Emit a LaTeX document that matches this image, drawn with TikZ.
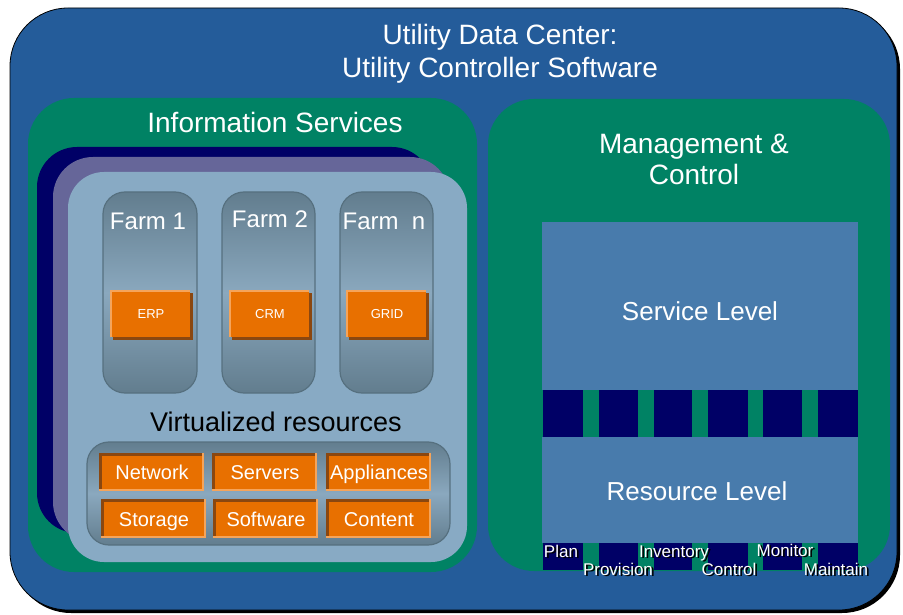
\documentclass[tikz,border=0pt]{standalone}
\usepackage{fontspec}
\setmainfont{Liberation Sans}
\definecolor{udcblue}{HTML}{245C9A}
\definecolor{udcgreen}{HTML}{008264}
\definecolor{udcnavy}{HTML}{000066}
\definecolor{udcpurple}{HTML}{666699}
\definecolor{udclight}{HTML}{88AAC4}
\definecolor{levelblue}{HTML}{487BAC}
\definecolor{slatedark}{HTML}{627D8E}
\definecolor{slatelight}{HTML}{8AA8BE}
\definecolor{slateedge}{HTML}{56707F}
\definecolor{orangemain}{HTML}{E87000}
\definecolor{orangelight}{HTML}{F5A45A}
\definecolor{orangedark}{HTML}{8A4710}
\tikzset{
  heading/.style={text=white, font=\fontsize{28}{30}\selectfont, inner sep=0pt, align=center},
  farmlabel/.style={text=white, font=\fontsize{24}{26}\selectfont, inner sep=0pt, text height=17.2pt, text depth=0pt},
  levellabel/.style={text=white, font=\fontsize{26}{28}\selectfont, inner sep=0pt, text height=18.6pt, text depth=0pt},
  applabel/.style={text=white, font=\fontsize{13}{15}\selectfont, inner sep=0pt, text height=9.3pt, text depth=0pt},
  reslabel/.style={text=white, font=\fontsize{20}{22}\selectfont, inner sep=0pt, text height=14.3pt, text depth=0pt},
  funclabel/.style={font=\fontsize{17}{19}\selectfont, inner sep=0pt, text height=12.2pt, text depth=0pt},
  farmbox/.style={rounded corners=22pt, top color=slatedark, bottom color=slatedark, middle color=slatelight, draw=slateedge, line width=1.2pt},
  navyblock/.style={fill=udcnavy},
}
% raised orange button with a shadow at the bottom right
\newcommand{\raisedbox}[5]{%
  \fill[orangedark] (#1+2.5,#2+2.5) rectangle (#3+2.5,#4+2.5);
  \fill[orangemain] (#1,#2) rectangle (#3,#4);
  \draw[orangelight, line width=1.5pt] (#1+0.75,#4) -- (#1+0.75,#2+0.75) -- (#3,#2+0.75);
  \node[applabel] (#5) at ({(#1+#3)/2+1},{(#2+#4)/2}) {#5};
}
% sunken orange button: dark edge top left, light edge bottom right
\newcommand{\sunkenbox}[6]{%
  \fill[orangelight] (#1,#2) rectangle (#3,#4);
  \fill[orangedark] (#1,#2) rectangle (#3-2,#4-2);
  \fill[orangemain] (#1+2.5,#2+2.5) rectangle (#3-2,#4-2);
  \node[reslabel] (#5) at ({(#1+#3)/2+0.5},{(#2+#4)/2+0.5}) {#6};
}
% white label with a black drop shadow, set as one node
\newcommand{\shadowlabel}[4]{%
  \node[funclabel, text=white] (#3) at (#1,#2)
    {\rlap{\hspace{1.8pt}\raisebox{-1.8pt}{\textcolor{black}{#4}}}#4};
}
\begin{document}
\begin{tikzpicture}[x=1pt,y=-1pt]
\useasboundingbox (0,0) rectangle (903,615);
\fill[white] (0,0) rectangle (903,615);

% outer data-centre panel with drop shadow
\fill[black, rounded corners=58pt] (13,11) rectangle (900,613);
\filldraw[fill=udcblue, draw=black, line width=0.8pt, rounded corners=58pt] (10,8) rectangle (897,610);
\node[heading] (title1) at (500,37) {Utility Data Center:};
\node[heading] (title2) at (500,70) {Utility Controller Software};

% ---------------- Information Services ----------------
\fill[udcgreen, rounded corners=46pt] (28,98) rectangle (477,572);
\node[heading] (infoserv) at (275,122) {Information Services};
\fill[udcnavy, rounded corners=40pt] (37,147) rectangle (432,533);
\fill[udcpurple, rounded corners=40pt] (53,157) rectangle (450,542);
\fill[udclight, rounded corners=36pt] (68,172) rectangle (467,562);

% farms
\shade[farmbox] (103,192) rectangle (197,393);
\shade[farmbox] (222,192) rectangle (315,393);
\shade[farmbox] (340,192) rectangle (433,393);
\node[farmlabel] (farm1) at (148,221) {Farm 1};
\node[farmlabel] (farm2) at (270,219) {Farm 2};
\node[farmlabel] (farmn) at (384,221) {Farm\ \ n};
\raisedbox{110}{290}{190}{337}{ERP}
\raisedbox{229}{290}{309}{337}{CRM}
\raisedbox{346}{290}{426}{337}{GRID}

% virtualized resources
\node[heading, text=black, font=\fontsize{27}{29}\selectfont] (virt) at (276,422) {Virtualized resources};
\shade[rounded corners=22pt, top color=slatedark, bottom color=slatedark, middle color=slatelight, draw=slateedge, line width=1.2pt] (87,442) rectangle (450,545);
\sunkenbox{99}{453}{204}{491}{network}{Network}
\sunkenbox{212}{453}{317}{491}{servers}{Servers}
\sunkenbox{326}{453}{431}{491}{appliances}{Appliances}
\sunkenbox{101}{499}{206}{538}{storage}{Storage}
\sunkenbox{213}{499}{318}{538}{software}{Software}
\sunkenbox{326}{499}{431}{538}{content}{Content}

% ---------------- Management & Control ----------------
\fill[udcgreen, rounded corners=46pt] (488,99) rectangle (890,571);
\node[heading] (mgmt) at (694,159) {Management \&\\[1pt]Control};
\fill[levelblue] (542,222) rectangle (858,390);
\node[levellabel] (service) at (700,311) {Service Level};
\foreach \xa/\xb in {543/583, 599/638, 654/692, 708/748, 763/802, 818/858} {
  \fill[navyblock] (\xa,390) rectangle (\xb,437);
  \fill[navyblock] (\xa,543) rectangle (\xb,570);
}
\fill[levelblue] (542,437) rectangle (858,543);
\node[levellabel] (resource) at (697,491) {Resource Level};

\shadowlabel{561}{551}{plan}{Plan}
\shadowlabel{618}{569}{provision}{Provision}
\shadowlabel{674}{551}{inventory}{Inventory}
\shadowlabel{729}{569}{control}{Control}
\shadowlabel{785}{550}{monitor}{Monitor}
\shadowlabel{836}{569}{maintain}{Maintain}
\end{tikzpicture}
\end{document}
